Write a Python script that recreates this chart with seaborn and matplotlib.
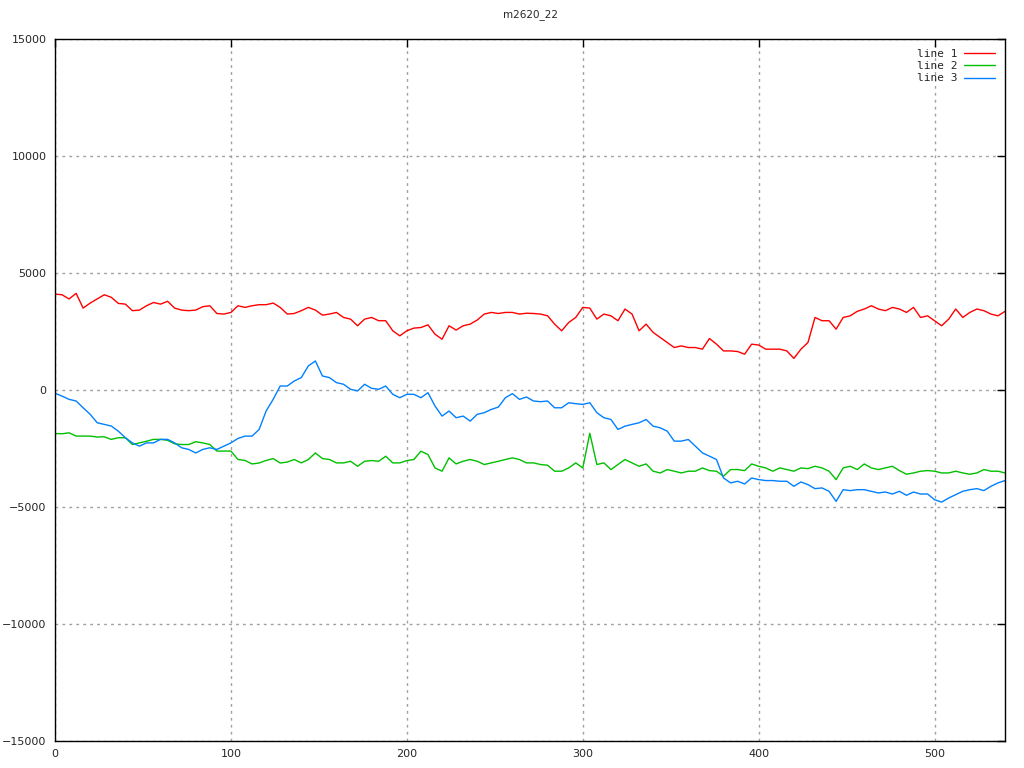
import numpy as np
import pandas as pd
import matplotlib
matplotlib.use("Agg")
import matplotlib.pyplot as plt
import seaborn as sns
from matplotlib.lines import Line2D

title = "m2620_22"
x_vals = list(range(0, 541, 4))

line1 = [4100, 4070, 3890, 4130, 3500, 3715, 3890, 4070, 3960, 3700, 3670, 3390, 3415, 3600, 3740, 3670, 3790, 3500,
         3415, 3390, 3415, 3560, 3600, 3270, 3245, 3315, 3600, 3530, 3600, 3645, 3645, 3715, 3530, 3245,
         3270, 3390, 3530, 3415, 3200, 3245, 3315, 3100, 3030, 2745, 3030, 3100, 2960, 2960, 2530, 2315, 2530,
         2645, 2670, 2785, 2385, 2170, 2745, 2560, 2745, 2815, 2990, 3245, 3315, 3270, 3315, 3315, 3245, 3280,
         3270, 3245, 3170, 2815, 2530, 2885, 3100, 3530, 3500, 3030, 3245, 3170, 2960, 3460, 3245, 2530, 2815,
         2460, 2245, 2030, 1815, 1885, 1815, 1815, 1745, 2200, 1960, 1670, 1670, 1645, 1530, 1960, 1920,
         1745, 1745, 1745, 1670, 1350, 1745, 2030, 3100, 2960, 2960, 2600, 3100, 3170, 3360, 3460, 3600, 3460,
         3390, 3530, 3460, 3315, 3530, 3100, 3170, 2960, 2745, 3030, 3460, 3100, 3315, 3460, 3390, 3245, 3170, 3360]

line2 = [-1860, -1870, -1830, -1970, -1970, -1970, -2010, -2000, -2110, -2040, -2040, -2330, -2260, -2190, -2110,
         -2110, -2150, -2300, -2330, -2330, -2210, -2260, -2330, -2610, -2610, -2610, -2970, -3010, -3160, -3120,
         -3010, -2930, -3120, -3080,
         -2970, -3115, -2970, -2690, -2930, -2970, -3115, -3115, -3045, -3260, -3045, -3015, -3045, -2830, -3115,
         -3115, -3015, -2970, -2615, -2760, -3330, -3470, -2900, -3160, -3045, -2970, -3045, -3185, -3115, -3045,
         -2970, -2900, -2970, -3115,
         -3115, -3185, -3215, -3470, -3470, -3330, -3115, -3330, -1850, -3185, -3115, -3400, -3185, -2970, -3115,
         -3260, -3160, -3470, -3545, -3400, -3470, -3545, -3470, -3470, -3330, -3445, -3470, -3685, -3400, -3400,
         -3445, -3160, -3260,
         -3330, -3470, -3330, -3400, -3470, -3330, -3360, -3260, -3330, -3470, -3830, -3330, -3260, -3400, -3160,
         -3330, -3400, -3330, -3260, -3445, -3600, -3545, -3470, -3445, -3470, -3545, -3545, -3470, -3545, -3600,
         -3545, -3400, -3470, -3470, -3545]

line3 = [-140, -260, -400, -470, -760, -1040, -1400, -1470, -1540, -1760, -2040, -2260, -2400, -2260, -2260, -2110,
         -2110, -2260, -2470, -2540, -2690, -2540, -2470, -2540, -2400, -2260, -2070, -1970, -1970, -1690, -900,
         -400, 170, 170,
         385, 530, 1030, 1240, 600, 530, 315, 245, 30, -40, 245, 70, 30, 170, -185, -330, -185, -185, -330, -115,
         -685, -1115, -900, -1185, -1115, -1330, -1040, -970, -830, -730, -330, -155, -400, -300,
         -470, -500, -470, -760, -760, -545, -585, -615, -545, -970, -1185, -1260, -1685, -1545, -1470, -1400,
         -1260, -1545, -1615, -1760, -2185, -2185, -2115, -2400, -2685, -2830, -2970, -3760, -3970, -3900, -4015,
         -3760, -3830,
         -3870, -3870, -3900, -3900, -4115, -3930, -4045, -4215, -4185, -4330, -4760, -4260, -4300, -4260, -4260,
         -4330, -4400, -4360, -4445, -4330, -4500, -4360, -4445, -4445, -4690, -4790, -4615, -4470, -4330, -4260,
         -4215, -4300, -4115, -3970, -3870]

series_names = ["line 1", "line 2", "line 3"]
colors = ["#ff0000", "#00c000", "#0080ff"]
x_ticks = [0, 100, 200, 300, 400, 500]
y_ticks = [-15000, -10000, -5000, 0, 5000, 10000, 15000]

frames = []
for name, vals in zip(series_names, [line1, line2, line3]):
    frames.append(pd.DataFrame({"x": x_vals[:len(vals)], "y": vals, "series": name}))
df = pd.concat(frames, ignore_index=True)

sns.set_style("white")
plt.rcParams['font.family'] = ['DejaVu Sans']

fig = plt.figure(figsize=(10.24, 7.68), dpi=100)
ax = fig.add_axes([55 / 1024, 27 / 768, 950 / 1024, 702 / 768])

sns.lineplot(data=df, x="x", y="y", hue="series", palette=colors, estimator=None,
             sort=False, linewidth=1, ax=ax, legend=False)

ax.set_xlim(0, 540)
ax.set_ylim(-15000, 15000)
ax.set_xticks(x_ticks)
ax.set_yticks(y_ticks)
ax.set_xticklabels([str(t) for t in x_ticks], fontsize=8)
ax.set_yticklabels([str(t).replace("-", "\u2212") for t in y_ticks], fontsize=8)
ax.set_xlabel("")
ax.set_ylabel("")
ax.tick_params(direction="in", length=6, width=1, top=True, right=True, color="black", pad=6)
ax.grid(True, linestyle=(0, (2, 3)), color="#a0a0a0", linewidth=1)
for s in ax.spines.values():
    s.set_color("black")
    s.set_linewidth(1)
    s.set_visible(True)

ax.set_title(title, fontsize=7.5, pad=16)

handles = [Line2D([0], [0], color=c, lw=1) for c in colors]
leg = ax.legend(handles, series_names, loc="upper right", frameon=False, markerfirst=False,
                prop={"family": "DejaVu Sans Mono", "size": 8}, handlelength=2.8,
                labelspacing=0.2, borderaxespad=0.5, handletextpad=0.6)

fig.savefig("out.png", dpi=100)
